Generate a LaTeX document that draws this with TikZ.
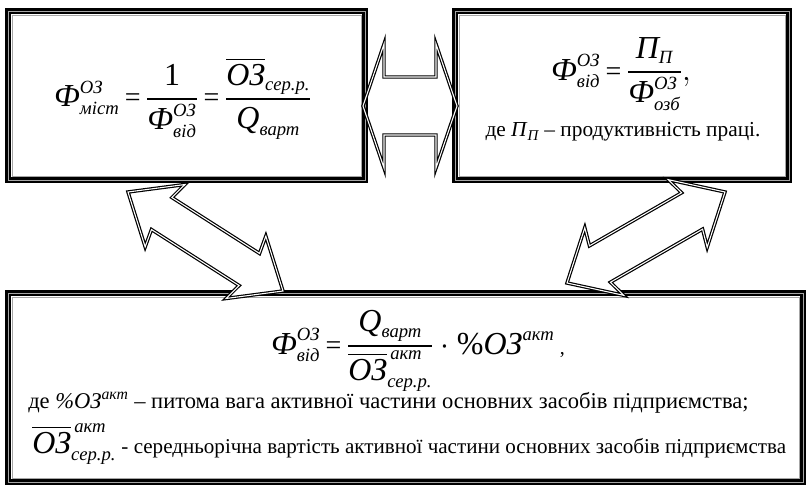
\RequirePackage{fix-cm}
\documentclass[tikz,border=0pt]{standalone}
\usepackage{amsmath}
\usepackage{fontspec}
\setmainfont{Liberation Serif}
\usetikzlibrary{calc}

\DeclareMathSizes{24}{24}{14}{10}
\newcommand{\ci}[1]{\textit{#1}}
\newcommand{\Fi}{\ci{Ф}}
\newcommand{\OZ}{\ci{ОЗ}}
\newcommand{\eq}{\mathrel{\text{\fontsize{21}{21}\selectfont =}}}
\newcommand{\bigf}{\fontsize{24}{28}\selectfont\thickmuskip=3mu}
\newcommand{\txtf}{\fontsize{16}{19}\selectfont}

% inner lines of a framed box
\newcommand{\frameinner}[1]{%
  \draw[gray!70, line width=0.5pt] ([shift={(3,3)}]#1.north west) rectangle ([shift={(-3,-3)}]#1.south east);
  \draw[black, line width=1.1pt] ([shift={(4.8,4.8)}]#1.north west) rectangle ([shift={(-4.8,-4.8)}]#1.south east);
  \draw[gray!70, line width=0.5pt] ([shift={(7,7)}]#1.north west) rectangle ([shift={(-7,-7)}]#1.south east);
}

% double block arrow: [opts]{from}{to}{head length}{head half}{shaft half}{notch}
\newcommand{\dblarrow}[7][]{%
  \draw[blockarrow,#1] let \p1=($(#3)-(#2)$), \n1={atan2(\y1,\x1)}, \n2={veclen(\x1,\y1)} in
    (#2)
    -- ($(#2)+(\n1:{#4*0.75pt})+({\n1+90}:{#5*0.75pt})$)
    -- ($(#2)+(\n1:{#7*0.75pt})+({\n1+90}:{#6*0.75pt})$)
    -- ($(#2)+(\n1:{\n2*1pt-#7*0.75pt})+({\n1+90}:{#6*0.75pt})$)
    -- ($(#2)+(\n1:{\n2*1pt-#4*0.75pt})+({\n1+90}:{#5*0.75pt})$)
    -- (#3)
    -- ($(#2)+(\n1:{\n2*1pt-#4*0.75pt})+({\n1-90}:{#5*0.75pt})$)
    -- ($(#2)+(\n1:{\n2*1pt-#7*0.75pt})+({\n1-90}:{#6*0.75pt})$)
    -- ($(#2)+(\n1:{#7*0.75pt})+({\n1-90}:{#6*0.75pt})$)
    -- ($(#2)+(\n1:{#4*0.75pt})+({\n1-90}:{#5*0.75pt})$)
    -- cycle;
}

\begin{document}
\begin{tikzpicture}[x=0.75pt, y=-0.75pt,
  card/.style={draw=black, line width=3pt, fill=white, inner sep=0pt},
  blockarrow/.style={draw=black, line width=0.9pt, double=white, double distance=0.8pt, line join=miter},
  formula/.style={inner sep=0pt, font=\bigf},
  txt/.style={inner sep=0pt, font=\txtf}]
  \useasboundingbox (0,0) rectangle (807,485);

  % boxes
  \node[card, minimum width=269.25pt, minimum height=128.25pt] (mist) at (186.5,95.5) {};
  \node[card, minimum width=252pt, minimum height=128.25pt] (vid) at (622,95.5) {};
  \node[card, minimum width=597.75pt, minimum height=143.25pt] (akt) at (405.5,387.5) {};
  \frameinner{mist}
  \frameinner{vid}
  \frameinner{akt}

  % arrow ends
  \coordinate (ha1) at (363,106);
  \coordinate (ha2) at (457,106);
  \coordinate (la1) at (128,192);
  \coordinate (la2) at (283,291);
  \coordinate (ra1) at (567,283);
  \coordinate (ra2) at (725,192);

  % arrows
  \dblarrow{ha1}{ha2}{21}{62}{29}{21}
  \dblarrow[fill=white]{la1}{la2}{44}{37}{19}{40}
  \dblarrow[fill=white]{ra1}{ra2}{43}{39}{21}{38}

  % formulas and texts
  \node[formula, anchor=base] (fmist) at (183,107)
    {$\Fi^{\OZ}_{\ci{міст}} \eq \dfrac{\text{1}}{\Fi^{\OZ}_{\ci{від}}} \eq \dfrac{\overline{\OZ}_{\ci{сер.р.}}}{\ci{Q}_{\ci{варт}}}$};
  \node[formula, anchor=base] (fvid) at (621,80)
    {$\Fi^{\OZ}_{\ci{від}} \eq \dfrac{\ci{П}_{\ci{П}}}{\Fi^{\OZ}_{\ci{озб}}},$};
  \node[txt, anchor=base] (pp) at (623,137) {де \ci{П}$_{\ci{П}}$ – продуктивність праці.};
  \node[formula, anchor=base] (fakt) at (418,354)
    {$\Fi^{\OZ}_{\ci{від}} \eq \dfrac{\ci{Q}_{\ci{варт}}}{\smash[b]{\overline{\OZ}^{\,\ci{акт}}_{\ci{сер.р.}}}} \cdot \text{\%}\OZ^{\ci{акт}}\;\text{\fontsize{15}{15}\selectfont ,}$};
  \node[txt, anchor=base west, font=\fontsize{16.9}{19}\selectfont] (lin1) at (28,408)
    {де \ci{\%ОЗ}\smash{\textsuperscript{\ci{акт}}} – питома вага активної частини основних засобів підприємства;};
  \node[txt, anchor=base west, font=\fontsize{15.8}{19}\selectfont] (lin2) at (32,453)
    {{\bigf$\overline{\OZ}^{\,\ci{акт}}_{\ci{сер.р.}}$} - середньорічна вартість активної частини основних засобів підприємства};
\end{tikzpicture}
\end{document}
